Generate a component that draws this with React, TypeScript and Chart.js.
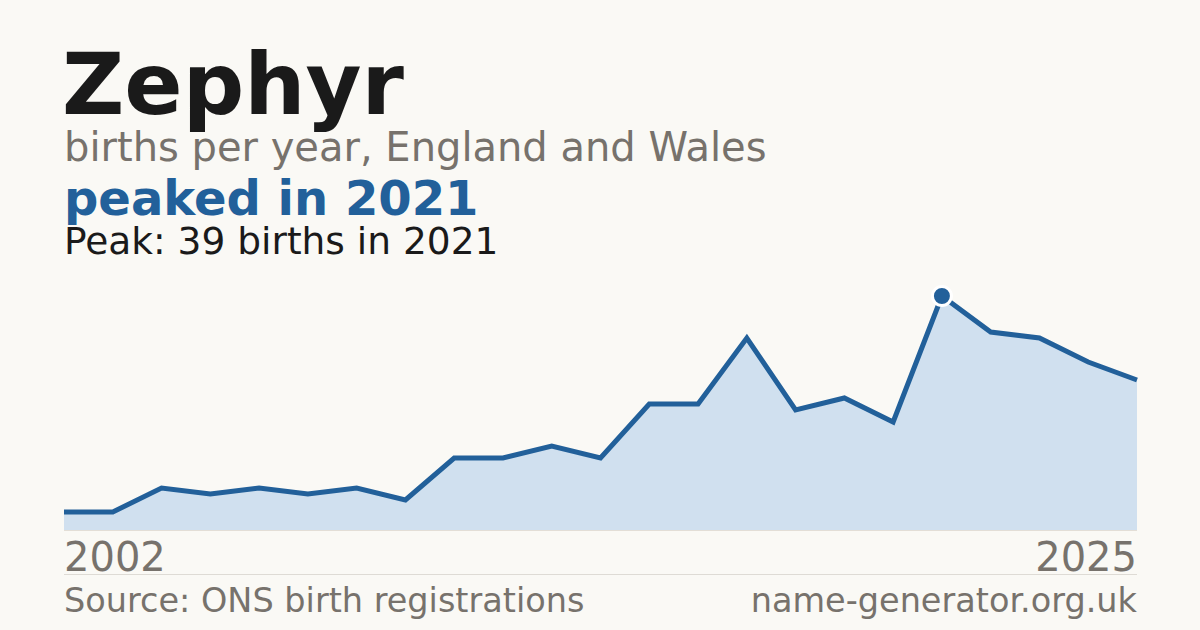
import React, { useEffect, useRef } from 'react';
import Chart from 'chart.js/auto';

// one year (2003) has no published count, so it is left out of the series
const years: number[] = [
  2002, 2004, 2005, 2006, 2007, 2008, 2009, 2010, 2011, 2012, 2013, 2014,
  2015, 2016, 2017, 2018, 2019, 2020, 2021, 2022, 2023, 2024, 2025,
];
const births: number[] = [
  3, 3, 7, 6, 7, 6, 7, 5, 12, 12, 14, 12, 21, 21, 32, 20, 22, 18, 39, 33, 32, 28, 25,
];
const nameTitle = 'Zephyr';
const subtitle = 'births per year, England and Wales';
const sourceText = 'Source: ONS birth registrations';
const siteText = 'name-generator.org.uk';

const BLUE = '#22609a';
const FILL = '#d0e0ef';
const GRAY = '#77726c';
const INK = '#1a1a1a';
const BG = '#faf9f5';
const FONT = '"DejaVu Sans", sans-serif';

const peakValue = Math.max(...births);
const peakIndex = births.indexOf(peakValue);
const peakYear = years[peakIndex];

const App: React.FC = () => {
  const chartRef = useRef<HTMLCanvasElement>(null);
  const chartInstance = useRef<Chart | null>(null);

  useEffect(() => {
    if (!chartRef.current) return;
    if (chartInstance.current) chartInstance.current.destroy();

    const ctx = chartRef.current.getContext('2d');
    if (!ctx) return;

    chartInstance.current = new Chart(ctx, {
      type: 'line',
      data: {
        labels: years.map(String),
        datasets: [
          {
            data: births,
            borderColor: BLUE,
            borderWidth: 5,
            backgroundColor: FILL,
            fill: 'origin',
            tension: 0,
            clip: false,
            pointRadius: births.map((_, i) => (i === peakIndex ? 9.5 : 0)),
            pointBackgroundColor: BLUE,
            pointBorderColor: '#ffffff',
            pointBorderWidth: 3,
            pointHoverRadius: 0,
          },
        ],
      },
      options: {
        responsive: true,
        maintainAspectRatio: false,
        animation: false,
        layout: { padding: { top: 20, left: 10, right: 10, bottom: 0 } },
        plugins: {
          legend: { display: false },
          tooltip: { enabled: false },
        },
        scales: {
          x: { display: false, offset: false },
          y: { display: false, min: 0, max: peakValue },
        },
      },
    });

    return () => {
      if (chartInstance.current) {
        chartInstance.current.destroy();
        chartInstance.current = null;
      }
    };
  }, []);

  const text = (size: number, color: string, weight = 400): React.CSSProperties => ({
    position: 'absolute',
    fontFamily: FONT,
    fontSize: size,
    fontWeight: weight,
    color,
    lineHeight: 1,
    whiteSpace: 'nowrap',
    margin: 0,
  });

  return (
    <div
      style={{
        position: 'fixed',
        left: 0,
        top: 0,
        width: 1200,
        height: 630,
        background: BG,
        overflow: 'hidden',
      }}
    >
      <div style={{ ...text(86, INK, 700), left: 62, top: 41 }}>{nameTitle}</div>
      <div style={{ ...text(40, GRAY), left: 64, top: 127 }}>{subtitle}</div>
      <div style={{ ...text(48, BLUE, 700), left: 64, top: 174 }}>peaked in {peakYear}</div>
      <div style={{ ...text(37.5, INK), left: 64, top: 223 }}>
        Peak: {peakValue} births in {peakYear}
      </div>

      <div style={{ position: 'absolute', left: 54, top: 276, width: 1093, height: 254 }}>
        <canvas ref={chartRef}></canvas>
      </div>
      <div style={{ position: 'absolute', left: 64, top: 530, width: 1073, height: 1, background: '#e3ded6' }} />

      <div style={{ ...text(40, GRAY), left: 64, top: 537 }}>{years[0]}</div>
      <div style={{ ...text(40, GRAY), right: 1200 - 1137, top: 537 }}>{years[years.length - 1]}</div>
      <div style={{ position: 'absolute', left: 64, top: 574, width: 1073, height: 1, background: '#dedbd5' }} />

      <div style={{ ...text(33.5, GRAY), left: 64, top: 584 }}>{sourceText}</div>
      <div style={{ ...text(33.5, GRAY), right: 1200 - 1137, top: 584 }}>{siteText}</div>
    </div>
  );
};

export default App;
